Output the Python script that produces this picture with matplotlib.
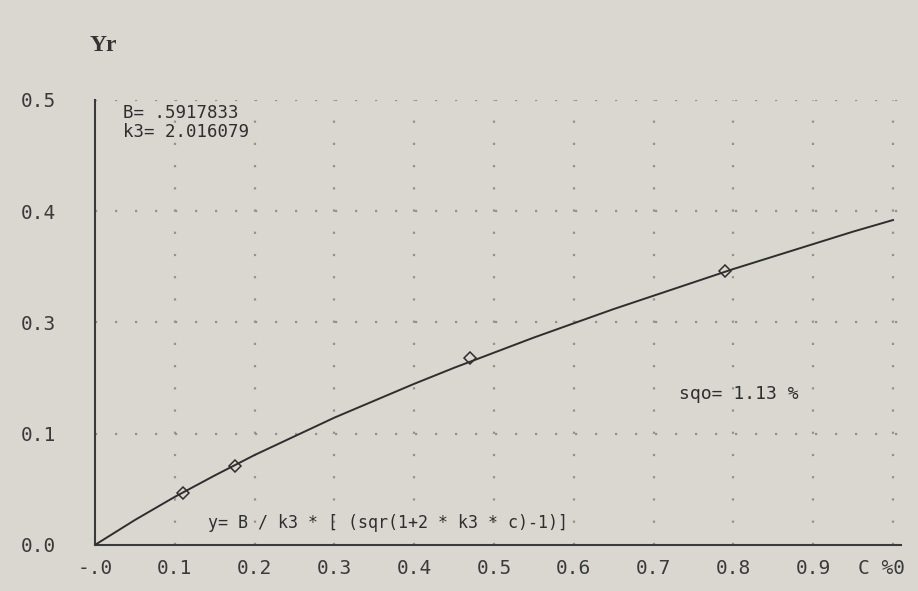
import matplotlib
matplotlib.use("Agg")
import matplotlib.pyplot as plt
import matplotlib.transforms as mtransforms

# fitted curve Yr vs c
curve_c = [0.0, 0.05, 0.1, 0.15, 0.2, 0.25, 0.3, 0.35, 0.4, 0.45, 0.5,
           0.55, 0.6, 0.65, 0.7, 0.75, 0.8, 0.85, 0.9, 0.95, 1.0]
curve_y = [0.0, 0.028, 0.054, 0.078, 0.101, 0.122, 0.143, 0.162, 0.181, 0.199, 0.216,
           0.233, 0.249, 0.265, 0.280, 0.295, 0.310, 0.324, 0.338, 0.352, 0.365]

# measured points
meas_c = [0.11, 0.175, 0.47, 0.79]
meas_y = [0.058, 0.089, 0.210, 0.308]

xticks = [0.0, 0.1, 0.2, 0.3, 0.4, 0.5, 0.6, 0.7, 0.8, 0.9, 1.0]
xlabels = ["-.0", "0.1", "0.2", "0.3", "0.4", "0.5", "0.6", "0.7", "0.8", "0.9", "C %0"]
yticks = [0.0, 0.125, 0.25, 0.375, 0.5]
ylabels = ["0.0", "0.1", "0.3", "0.4", "0.5"]

bg = "#dad7d1"
ink = "#2e2e2e"
mono = "DejaVu Sans Mono"

fig = plt.figure(figsize=(9.18, 5.91), dpi=100, facecolor=bg)
ax = fig.add_axes([0.1035, 0.078, 0.878, 0.753], facecolor=bg)

# dotted grid like the dot-matrix printout
for x in xticks[1:]:
    ax.axvline(x, color="#95928d", lw=1.6, ls=(0, (1, 9)), zorder=1)
for y in yticks[1:]:
    ax.axhline(y, color="#95928d", lw=1.6, ls=(0, (1, 8)), zorder=1)

ax.plot(curve_c, curve_y, color=ink, lw=1.4, zorder=3)
ax.plot(meas_c, meas_y, ls="none", marker="D", ms=6.5, mfc="none", mec=ink, mew=1.1, zorder=4)

ax.set_xlim(0, 1.01)
ax.set_ylim(0, 0.5)
ax.set_xticks(xticks)
ax.set_xticklabels(xlabels, fontfamily=mono, fontsize=14, color="#3a3a3a")
ax.set_yticks(yticks)
ax.set_yticklabels(ylabels, fontfamily=mono, fontsize=14, color="#3a3a3a")
ax.tick_params(length=0, pad=10)
ax.tick_params(axis="y", pad=28)

# last x label sits flush with the end of the axis
last = ax.get_xticklabels()[-1]
last.set_horizontalalignment("right")
last.set_transform(last.get_transform() + mtransforms.ScaledTranslation(0.12, 0, fig.dpi_scale_trans))

for s in ["top", "right"]:
    ax.spines[s].set_visible(False)
for s in ["left", "bottom"]:
    ax.spines[s].set_color("#3a3a3a")
    ax.spines[s].set_linewidth(1.5)

fig.text(0.113, 0.923, "Yr", fontfamily="Liberation Serif", fontweight="bold",
         fontsize=17, color="#333333", va="center", ha="center")

ax.text(0.035, 0.99, "B= .5917833", transform=ax.transAxes, fontfamily=mono,
        fontsize=12.5, color=ink, va="top", ha="left")
ax.text(0.035, 0.948, "k3= 2.016079", transform=ax.transAxes, fontfamily=mono,
        fontsize=12.5, color=ink, va="top", ha="left")
ax.text(0.725, 0.34, "sqo= 1.13 %", transform=ax.transAxes, fontfamily=mono,
        fontsize=13, color=ink, va="center", ha="left")
ax.text(0.14, 0.05, "y= B / k3 * [ (sqr(1+2 * k3 * c)-1)]", transform=ax.transAxes,
        fontfamily=mono, fontsize=12, color=ink, va="center", ha="left")

fig.savefig("out.png", dpi=100, facecolor=bg)
